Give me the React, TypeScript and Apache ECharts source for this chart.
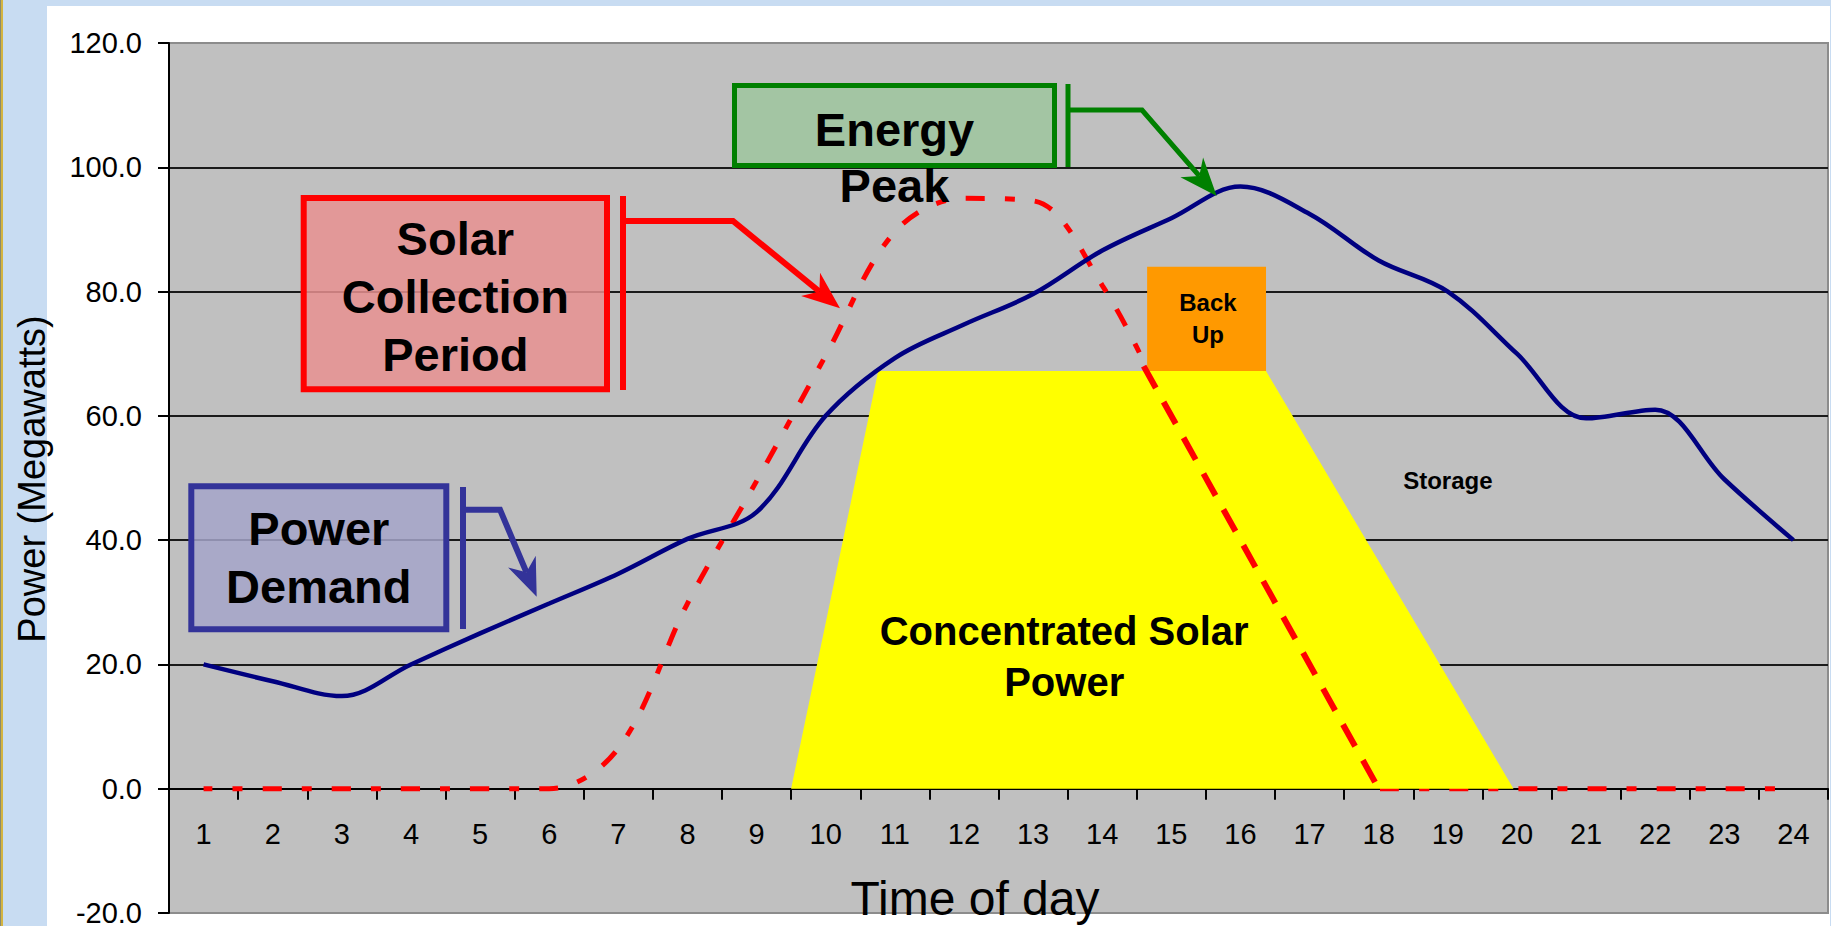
import React, { useEffect, useRef } from "react";
import * as echarts from "echarts";

// ---------- data ----------
const HOURS = ["1", "2", "3", "4", "5", "6", "7", "8", "9", "10", "11", "12", "13", "14", "15", "16", "17", "18", "19", "20", "21", "22", "23", "24"];
const DEMAND = [20, 17.3, 14.9, 20, 25, 29.8, 34.6, 40.2, 44.5, 60, 69.3, 74.7, 79.6, 86.6, 91.8, 96.9, 92.5, 85, 80, 70, 59.6, 61, 49.8, 40];
const SOLAR = [0, 0, 0, 0, 0, 0, 6.5, 29.8, 49.5, 69.7, 89.6, 95, 94.6, 81, 60, 40, 20, 0, 0, 0, 0, 0, 0, 0];
const CSP_X = [9.5, 10.76, 16.37, 19.95];
const CSP_Y = [0, 67.2, 67.2, 0];
const BACKUP_X = [14.65, 16.37];
const BACKUP_Y = [67.2, 84];
const DROP_X = [14.6, 18];
const DROP_Y = [68, 0];
const NOTE_TEXT = ["Concentrated Solar\nPower", "Back\nUp", "Storage"];
const NOTE_X = [13.45, 15.53, 19.0];
const NOTE_Y = [21.3, 75.6, 49.6];
const Y_MIN = -20;
const Y_MAX = 120;
const Y_STEP = 20;

const FONT = "'Liberation Sans', Arial, Helvetica, sans-serif";
const NOTE_SIZE = [40, 24, 24];
const NOTE_LH = [51, 32, 28];

const GRID_TOP = 43;
const GRID_BOTTOM = 13;
const CHART_H = 926;

type P = [number, number];

function arrow(from: P, tip: P, L = 38, W = 15) {
  const dx = tip[0] - from[0];
  const dy = tip[1] - from[1];
  const len = Math.hypot(dx, dy);
  const ux = dx / len;
  const uy = dy / len;
  const nx = -uy;
  const ny = ux;
  const base: P = [tip[0] - L * ux, tip[1] - L * uy];
  const notch: P = [tip[0] - 0.7 * L * ux, tip[1] - 0.7 * L * uy];
  return {
    end: notch,
    head: [tip, [base[0] + W * nx, base[1] + W * ny], notch, [base[0] - W * nx, base[1] - W * ny]] as P[],
  };
}

function callout(
  box: { x: number; y: number; w: number; h: number },
  border: string,
  fill: string,
  bw: number,
  text: string,
  textY: number,
  lh: number,
  barX: number,
  barY: [number, number],
  path: P[],
  tip: P
) {
  const a = arrow(path[path.length - 1], tip);
  return [
    {
      type: "rect",
      z: 100,
      shape: { x: box.x + bw / 2, y: box.y + bw / 2, width: box.w - bw, height: box.h - bw },
      style: { fill, stroke: border, lineWidth: bw },
    },
    {
      type: "text",
      z: 101,
      x: box.x + box.w / 2,
      y: textY,
      style: {
        text,
        fill: "#000",
        fontSize: 47,
        fontWeight: "bold",
        fontFamily: FONT,
        lineHeight: lh,
        align: "center",
        verticalAlign: "middle",
        textAlign: "center",
        textVerticalAlign: "middle",
      },
    },
    {
      type: "line",
      z: 100,
      shape: { x1: barX, y1: barY[0], x2: barX, y2: barY[1] },
      style: { stroke: border, lineWidth: bw },
    },
    {
      type: "polyline",
      z: 100,
      shape: { points: [[barX, path[0][1]], ...path, a.end] },
      style: { stroke: border, lineWidth: bw, fill: null, lineJoin: "miter" },
    },
    {
      type: "polygon",
      z: 100,
      shape: { points: a.head },
      style: { fill: border },
    },
  ];
}

export default function App() {
  const ref = useRef<HTMLDivElement>(null);

  useEffect(() => {
    if (!ref.current) return;
    const chart = echarts.init(ref.current, null, { renderer: "svg" });

    const plotH = CHART_H - GRID_TOP - GRID_BOTTOM;
    const zeroOffset = -(plotH * (0 - Y_MIN)) / (Y_MAX - Y_MIN);

    const graphics: any[] = [
      ...callout(
        { x: 300.7, y: 195, w: 309.3, h: 197.3 },
        "#FF0000",
        "rgba(232,145,145,0.85)",
        6,
        "Solar\nCollection\nPeriod",
        296.5,
        58,
        623,
        [196, 390],
        [[733, 221]],
        [840, 308.3]
      ),
      ...callout(
        { x: 188.3, y: 483.3, w: 261, h: 149 },
        "#333399",
        "rgba(164,164,201,0.85)",
        6,
        "Power\nDemand",
        557,
        58,
        463,
        [487, 629],
        [[500, 509.7]],
        [536.7, 596.7]
      ),
      ...callout(
        { x: 732, y: 83, w: 325, h: 85 },
        "#008000",
        "rgba(158,197,158,0.85)",
        5,
        "Energy\nPeak",
        157.5,
        56,
        1068,
        [84, 167],
        [[1142, 110]],
        [1216.7, 196]
      ),
      {
        type: "text",
        z: 100,
        x: 32,
        y: 479,
        rotation: Math.PI / 2,
        style: {
          text: "Power (Megawatts)",
          fill: "#000",
          fontSize: 38,
          fontFamily: FONT,
          align: "center",
          verticalAlign: "middle",
          textAlign: "center",
          textVerticalAlign: "middle",
        },
      },
      {
        type: "text",
        z: 100,
        x: 975,
        y: 898,
        style: {
          text: "Time of day",
          fill: "#000",
          fontSize: 48,
          fontFamily: FONT,
          align: "center",
          verticalAlign: "middle",
          textAlign: "center",
          textVerticalAlign: "middle",
        },
      },
    ];

    const option: any = {
      animation: false,
      backgroundColor: "transparent",
      grid: {
        left: 169,
        right: 3,
        top: GRID_TOP,
        bottom: GRID_BOTTOM,
        show: true,
        backgroundColor: "#C0C0C0",
        borderColor: "#8c8c8c",
        borderWidth: 2,
        outerBoundsMode: "none",
      },
      xAxis: [
        {
          type: "category",
          data: HOURS,
          boundaryGap: true,
          position: "bottom",
          offset: zeroOffset,
          axisLine: { show: true, onZero: false, lineStyle: { color: "#000", width: 2 } },
          axisTick: { show: true, length: 11, inside: false, lineStyle: { color: "#000", width: 2 } },
          axisLabel: { show: true, color: "#000", fontSize: 29, fontFamily: FONT, margin: 31, interval: 0 },
          splitLine: { show: false },
        },
        { type: "value", min: 0.5, max: 24.5, show: false, position: "top" },
      ],
      yAxis: {
        type: "value",
        min: Y_MIN,
        max: Y_MAX,
        interval: Y_STEP,
        axisLine: { show: true, onZero: false, lineStyle: { color: "#000", width: 2 } },
        axisTick: { show: true, length: 11, lineStyle: { color: "#000", width: 2 } },
        axisLabel: {
          color: "#000",
          fontSize: 29,
          fontFamily: FONT,
          margin: 27,
          formatter: (v: number) => v.toFixed(1),
        },
        splitLine: { show: true, showMinLine: false, showMaxLine: false, lineStyle: { color: "#1a1a1a", width: 2 } },
      },
      series: [
        {
          name: "Solar Collection",
          type: "line",
          xAxisIndex: 0,
          data: SOLAR,
          smooth: 0.35,
          symbol: "none",
          z: 2,
          lineStyle: { color: "#FF0000", width: 5, type: [19, 20.06, 10, 20.06], dashOffset: 9.5 },
        },
        {
          name: "Concentrated Solar Power",
          type: "custom",
          xAxisIndex: 1,
          z: 3,
          data: CSP_X.map((x, i) => [x, CSP_Y[i]]),
          encode: { x: 0, y: 1 },
          renderItem: (params: any, api: any) => {
            if (params.dataIndex !== 0) return null;
            const pts = CSP_X.map((x, i) => api.coord([x, CSP_Y[i]]));
            return { type: "polygon", shape: { points: pts }, style: { fill: "#FFFF00" } };
          },
        },
        {
          name: "Back Up",
          type: "custom",
          xAxisIndex: 1,
          z: 3,
          data: [[BACKUP_X[0], BACKUP_Y[1]]],
          encode: { x: 0, y: 1 },
          renderItem: (params: any, api: any) => {
            const p0 = api.coord([BACKUP_X[0], BACKUP_Y[1]]);
            const p1 = api.coord([BACKUP_X[1], BACKUP_Y[0]]);
            return {
              type: "rect",
              shape: { x: p0[0], y: p0[1], width: p1[0] - p0[0], height: p1[1] - p0[1] },
              style: { fill: "#FF9900" },
            };
          },
        },
        {
          name: "Power Demand",
          type: "line",
          xAxisIndex: 0,
          data: DEMAND,
          smooth: 0.35,
          symbol: "none",
          z: 4,
          lineStyle: { color: "#000080", width: 4.5 },
        },
        {
          name: "Solar drop",
          type: "line",
          xAxisIndex: 1,
          data: DROP_X.map((x, i) => [x, DROP_Y[i]]),
          symbol: "none",
          z: 5,
          lineStyle: { color: "#FF0000", width: 6, type: [25, 16] },
        },
        {
          name: "Notes",
          type: "custom",
          xAxisIndex: 1,
          z: 6,
          data: NOTE_X.map((x, i) => [x, NOTE_Y[i], i]),
          encode: { x: 0, y: 1 },
          renderItem: (params: any, api: any) => {
            const i = params.dataIndex;
            const p = api.coord([NOTE_X[i], NOTE_Y[i]]);
            return {
              type: "text",
              x: p[0],
              y: p[1],
              style: {
                text: NOTE_TEXT[i],
                fill: "#000",
                fontSize: NOTE_SIZE[i],
                fontWeight: "bold",
                fontFamily: FONT,
                lineHeight: NOTE_LH[i],
                align: "center",
                verticalAlign: "middle",
              },
            };
          },
        },
      ],
      graphic: { elements: graphics },
    };

    chart.setOption(option);
    return () => chart.dispose();
  }, []);

  return (
    <div style={{ position: "absolute", left: 0, top: 0, width: 1831, height: 926, background: "#C8DCF2", overflow: "hidden" }}>
      <div style={{ position: "absolute", left: 0, top: 0, width: 1, height: 926, background: "#8a8a70" }} />
      <div style={{ position: "absolute", left: 1, top: 0, width: 2, height: 926, background: "#d4b440" }} />
      <div style={{ position: "absolute", left: 47, top: 6, width: 1783, height: 920, background: "#FFFFFF" }} />
      <div ref={ref} style={{ position: "absolute", left: 0, top: 0, width: 1831, height: 926 }} />
    </div>
  );
}
